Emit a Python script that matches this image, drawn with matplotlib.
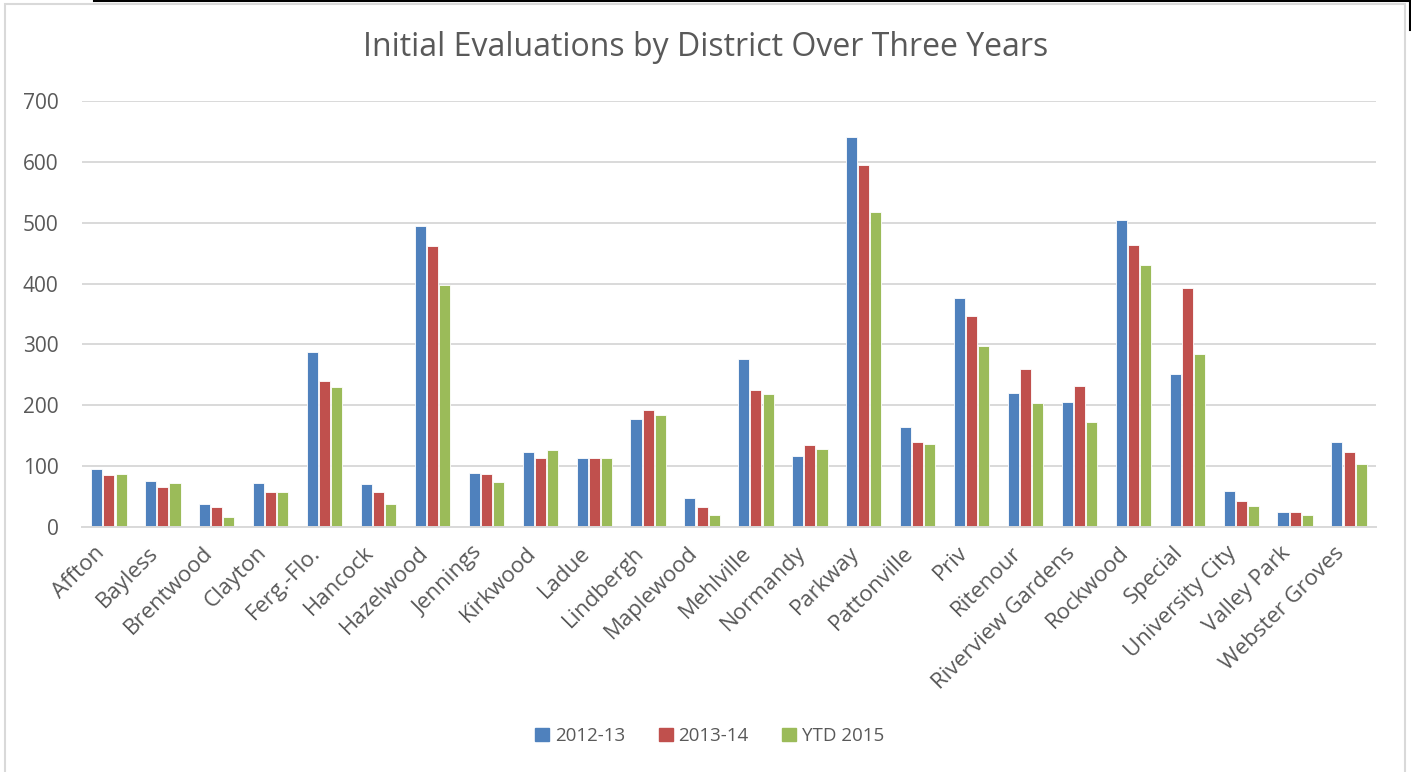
import numpy as np
import matplotlib
matplotlib.use("Agg")
import matplotlib.pyplot as plt
from matplotlib.lines import Line2D
import matplotlib.patches as mpatches

districts = ["Affton", "Bayless", "Brentwood", "Clayton", "Ferg.-Flo.", "Hancock",
             "Hazelwood", "Jennings", "Kirkwood", "Ladue", "Lindbergh", "Maplewood",
             "Mehlville", "Normandy", "Parkway", "Pattonville", "Priv", "Ritenour",
             "Riverview Gardens", "Rockwood", "Special", "University City",
             "Valley Park", "Webster Groves"]

y2012 = [96, 75, 37, 73, 287, 70, 495, 88, 124, 113, 177, 47,
         276, 117, 641, 165, 376, 221, 205, 505, 252, 59, 25, 140]
y2013 = [85, 66, 33, 57, 240, 57, 462, 87, 114, 114, 192, 33,
         225, 134, 595, 140, 346, 259, 231, 464, 392, 42, 25, 123]
y2015 = [87, 72, 17, 58, 230, 38, 397, 74, 126, 114, 184, 20,
         219, 128, 517, 137, 297, 203, 172, 431, 285, 34, 19, 104]

series = ["2012-13", "2013-14", "YTD 2015"]
BLUE  = "#4F81BD"
RED   = "#C0504D"
GREEN = "#9BBB59"
GRID  = "#D9D9D9"
TXT   = "#595959"

plt.rcParams["font.family"] = ["Open Sans", "DejaVu Sans"]

W, H = 1411, 772
fig = plt.figure(figsize=(W / 100, H / 100), dpi=100)
ax = fig.add_axes([82 / W, 1 - 527 / H, 1294 / W, 426 / H])

x = np.arange(len(districts))
bw = 0.205
for k, (vals, col) in enumerate(zip([y2012, y2013, y2015], [BLUE, RED, GREEN])):
    ax.bar(x + (k - 1) * 0.225, vals, width=bw, color=col, edgecolor="white",
           linewidth=0.6, zorder=3, label=series[k])

ax.set_xlim(-0.5, len(districts) - 0.5)
ax.set_ylim(0, 700)
ax.set_yticks(range(0, 701, 100))
ax.yaxis.grid(True, color=GRID, linewidth=1.4, zorder=0)
ax.set_axisbelow(True)
for s in ["top", "right", "left"]:
    ax.spines[s].set_visible(False)
ax.spines["bottom"].set_color(GRID)
ax.spines["bottom"].set_linewidth(1.4)
ax.spines["bottom"].set_zorder(4)
ax.tick_params(axis="both", length=0, colors=TXT)
ax.tick_params(axis="y", pad=17, labelsize=15)
ax.tick_params(axis="x", pad=11, labelsize=16)
ax.set_xticks(x)
ax.set_xticklabels(districts, rotation=45, ha="right", rotation_mode="default")

fig.text(0.5, 1 - 48 / H, "Initial Evaluations by District Over Three Years",
         ha="center", va="center", fontsize=23, color=TXT)

handles = [mpatches.Patch(color=c, label=l) for c, l in zip([BLUE, RED, GREEN], series)]
fig.legend(handles=handles, loc="center", bbox_to_anchor=(0.503, 1 - 736 / H),
           ncol=3, frameon=False, fontsize=13.5, handlelength=0.75, handleheight=0.75,
           handletextpad=0.3, columnspacing=1.8, labelcolor=TXT)

# chart frame and screenshot edges
fig.add_artist(mpatches.Rectangle((5 / W, -0.01), 1400 / W, 1 - 3.5 / H + 0.01,
                                  transform=fig.transFigure, fill=False,
                                  edgecolor="#D9D9D9", linewidth=1.5))
fig.add_artist(Line2D([94 / W, 1], [1 - 0.7 / H, 1 - 0.7 / H], transform=fig.transFigure,
                      color="black", linewidth=1.5))
fig.add_artist(Line2D([1 - 1 / W, 1 - 1 / W], [1, 1 - 30 / H], transform=fig.transFigure,
                      color="black", linewidth=1.5))

fig.savefig("out.png", dpi=100)
